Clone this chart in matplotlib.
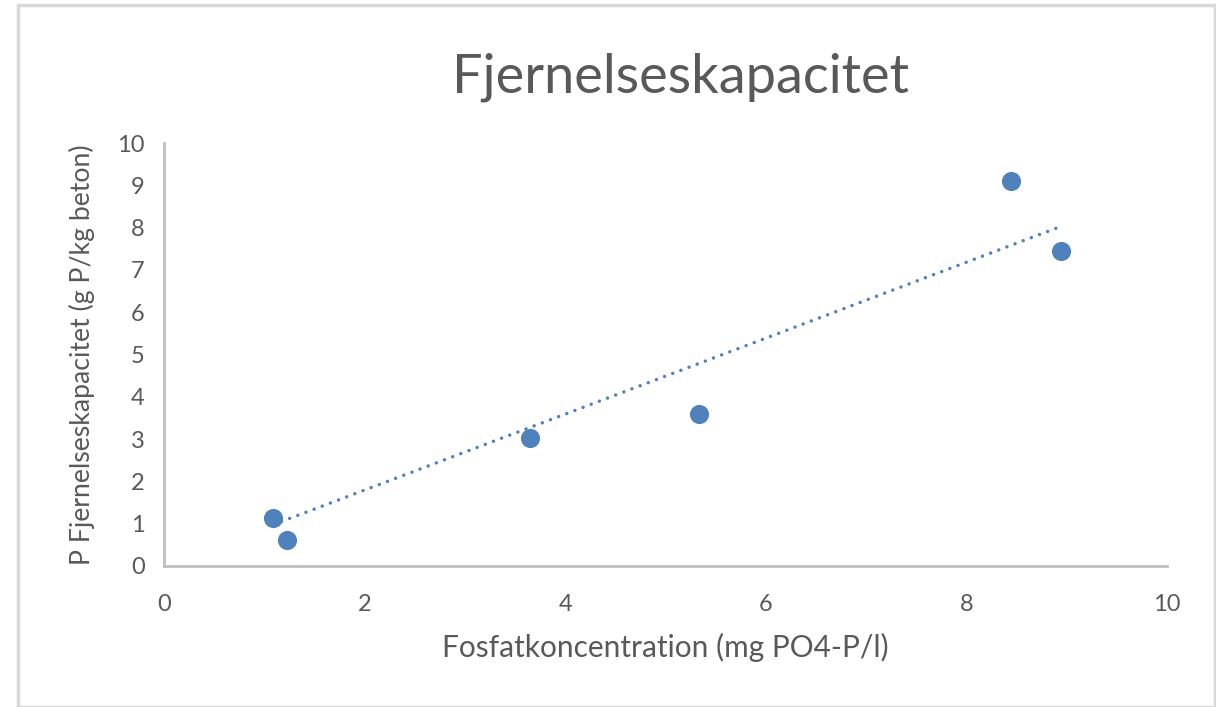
import numpy as np
import matplotlib.pyplot as plt
from matplotlib.patches import Rectangle

# fosfatkoncentration (mg PO4-P/l) og fjernelseskapacitet (g P/kg beton)
konc = [1.09, 1.23, 3.65, 5.33, 8.44, 8.94]
kapacitet = [1.13, 0.61, 3.03, 3.59, 9.10, 7.45]

blaa = "#4f81bd"
graa = "#595959"
plt.rcParams['font.family'] = ['Lato', 'DejaVu Sans']

fig = plt.figure(figsize=(12.16, 7.07), dpi=100)
ax = fig.add_axes([164/1216, 1 - 566/707, 1003/1216, 423/707])

# ramme om diagrammet
fig.patches.append(Rectangle((18/1216, 0), 1197/1216, 1 - 5/707, transform=fig.transFigure,
                             fill=False, edgecolor="#d9d9d9", lw=2.5))

ax.scatter(konc, kapacitet, s=190, color=blaa, zorder=3, linewidths=0)

# lineaer tendenslinje gennem origo
x = np.array(konc)
y = np.array(kapacitet)
a = np.sum(x * y) / np.sum(x * x)
xs = np.array([x.min(), x.max()])
ax.plot(xs, a * xs, color=blaa, lw=2.5, linestyle=(0, (0.01, 2.5)),
        dash_capstyle="round", zorder=2)

ax.set_xlim(0, 10)
ax.set_ylim(0, 10)
ax.set_xticks(range(0, 11, 2))
ax.set_yticks(range(0, 11))

for side in ["top", "right"]:
    ax.spines[side].set_visible(False)
for side in ["left", "bottom"]:
    ax.spines[side].set_color("#bfbfbf")
    ax.spines[side].set_linewidth(2)
ax.tick_params(length=0, labelsize=17, colors=graa, pad=14)
ax.tick_params(axis="x", pad=20)

ax.set_title("Fjernelseskapacitet", fontsize=39, color=graa, pad=36, x=0.515)
ax.set_xlabel("Fosfatkoncentration (mg PO4-P/l)", fontsize=21.5, color=graa, labelpad=13)
ax.set_ylabel("P Fjernelseskapacitet (g P/kg beton)", fontsize=19.2, color=graa, labelpad=16)

fig.savefig("out.png", dpi=100)
